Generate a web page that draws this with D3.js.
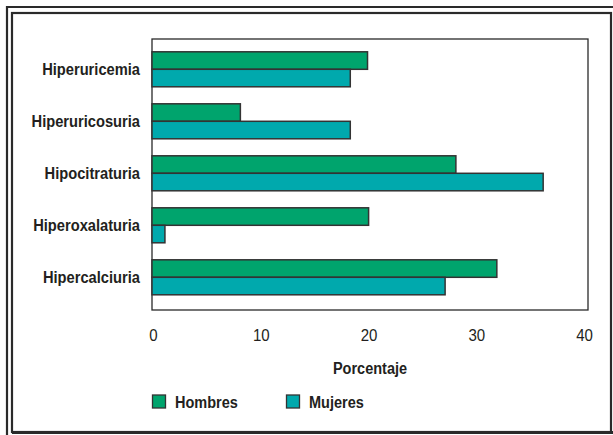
<!DOCTYPE html>
<html>
<head>
<meta charset="utf-8">
<script src="https://cdn.jsdelivr.net/npm/d3@7"></script>
<style>
  html, body { margin: 0; padding: 0; background: #fff; }
  svg { display: block; }
  text { font-family: "Liberation Sans", Arial, sans-serif; fill: #231f20; }
</style>
</head>
<body>
<svg id="chart" width="613" height="435"></svg>
<script>
// Trastornos metabólicos por sexo (%)
const categories = ["Hiperuricemia", "Hiperuricosuria", "Hipocitraturia", "Hiperoxalaturia", "Hipercalciuria"];
const hombres = [20, 8.2, 28.2, 20.1, 32];
const mujeres = [18.4, 18.4, 36.3, 1.2, 27.2];
const seriesNames = ["Hombres", "Mujeres"];
const seriesColors = ["#00a46d", "#00a9ad"];
const xTicks = [0, 10, 20, 30, 40];
const xTitle = "Porcentaje";

const FONT = "'Liberation Sans', Arial, sans-serif";
const SQUEEZE = 0.885; // horizontal condensing of the typeface
const svg = d3.select("#chart");

// Double frame around the figure
const frame = svg.append("g").attr("fill", "none").attr("stroke", "#2a2a2a");
frame.append("path").attr("d", "M7,435 V7 H613").attr("stroke-width", 2.2);
frame.append("rect").attr("x", 12).attr("y", 13).attr("width", 599).attr("height", 419)
  .attr("stroke-width", 2.2);
frame.append("line").attr("x1", 12).attr("x2", 613).attr("y1", 432.5).attr("y2", 432.5)
  .attr("stroke-width", 3);

const plot = { left: 152, right: 588, top: 39, bottom: 310 };

const x = d3.scaleLinear().domain([0, 40.46]).range([plot.left, plot.right]);
const y = d3.scaleBand().domain(categories).range([43.3, 303.3])
  .paddingInner(0.327).paddingOuter(0.1635);
const ySub = d3.scaleBand().domain(seriesNames).range([0, y.bandwidth()]);

// Plot box
svg.append("rect")
  .attr("x", plot.left).attr("y", plot.top)
  .attr("width", plot.right - plot.left).attr("height", plot.bottom - plot.top)
  .attr("fill", "none").attr("stroke", "#2a2a2a").attr("stroke-width", 1.3);

// Bars
const rows = categories.map((c, i) => ({ cat: c, values: [hombres[i], mujeres[i]] }));
const groups = svg.append("g").selectAll("g").data(rows).join("g")
  .attr("transform", d => `translate(0,${y(d.cat)})`);
groups.selectAll("rect")
  .data(d => d.values.map((v, j) => ({ v, s: seriesNames[j], color: seriesColors[j] })))
  .join("rect")
  .attr("x", x(0))
  .attr("y", d => ySub(d.s))
  .attr("width", d => x(d.v) - x(0))
  .attr("height", ySub.bandwidth())
  .attr("fill", d => d.color)
  .attr("stroke", "#333")
  .attr("stroke-width", 1.5);

// X axis tick labels (no axis line or ticks)
const xAxis = d3.axisBottom(x).tickValues(xTicks).tickSize(0).tickPadding(0).tickFormat(d3.format("d"));
const xg = svg.append("g").attr("transform", `translate(0,${plot.bottom})`).call(xAxis);
xg.select(".domain").remove();
xg.selectAll("text")
  .attr("x", 0).attr("y", 0).attr("dy", null)
  .attr("transform", `translate(1,31) scale(${SQUEEZE},1)`)
  .style("font-family", FONT)
  .style("font-size", "17px").style("fill", "#231f20");

// Category labels
const yAxis = d3.axisLeft(y).tickSize(0).tickPadding(12);
const yg = svg.append("g").attr("transform", `translate(${plot.left},0)`).call(yAxis);
yg.select(".domain").remove();
yg.selectAll("text")
  .attr("x", 0).attr("dy", "0.36em")
  .attr("transform", `translate(${140 - plot.left},0) scale(${SQUEEZE},1)`)
  .style("font-family", FONT)
  .style("font-size", "16.6px").style("font-weight", "bold").style("fill", "#231f20");

// Axis title
svg.append("text")
  .attr("transform", `translate(${(plot.left + plot.right) / 2},373.5) scale(${SQUEEZE},1)`)
  .attr("text-anchor", "middle")
  .style("font-size", "16.4px").style("font-weight", "bold")
  .text(xTitle);

// Legend
const legendX = [152.5, 286.5];
const legend = svg.append("g").selectAll("g").data(seriesNames).join("g")
  .attr("transform", (d, i) => `translate(${legendX[i]},395)`);
legend.append("rect")
  .attr("width", 13).attr("height", 13)
  .attr("fill", (d, i) => seriesColors[i])
  .attr("stroke", "#333").attr("stroke-width", 1.3);
legend.append("text")
  .attr("transform", `translate(22.5,12.5) scale(${SQUEEZE},1)`)
  .style("font-size", "16.4px").style("font-weight", "bold")
  .text(d => d);
</script>
</body>
</html>
